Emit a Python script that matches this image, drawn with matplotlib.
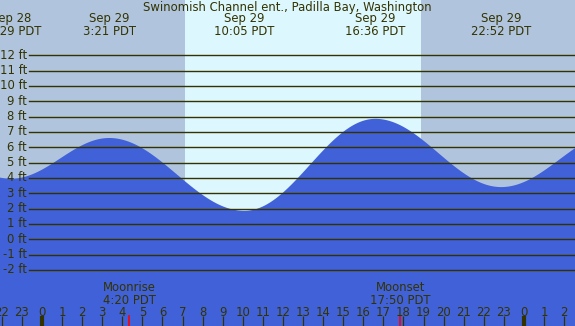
import numpy as np
import matplotlib
matplotlib.use("Agg")
import matplotlib.pyplot as plt
import matplotlib.transforms as mtransforms

# tide extremes, hours from Sep 29 00:00 PDT
ext_hours = [16.0 - 24, 22 + 29/60 - 24, 3 + 21/60, 10 + 5/60, 16 + 36/60, 22 + 52/60, 24 + 4 + 40/60]
ext_feet = [7.5, 3.95, 6.6, 1.85, 7.85, 3.4, 7.0]
ext_labels = ["Sep 28\n22:29 PDT", "Sep 29\n3:21 PDT", "Sep 29\n10:05 PDT",
              "Sep 29\n16:36 PDT", "Sep 29\n22:52 PDT"]
label_hours = ext_hours[1:6]

sunrise = 7 + 7/60
sunset = 18 + 52/60
moon_events = [("Moonrise\n4:20 PDT", 4 + 20/60), ("Moonset\n17:50 PDT", 17 + 50/60)]
feet_ticks = list(range(-2, 13))
hour_ticks = list(range(-2, 27))

title = "Swinomish Channel ent., Padilla Bay, Washington"

night_col = "#b0c4de"
day_col = "#ddf7ff"
water_col = "#4161d8"
ink = "#333300"
fs = 8.4

# cosine interpolation between the extremes
t = np.linspace(-2.2, 26.7, 1200)
h = np.zeros_like(t)
for i in range(len(ext_hours) - 1):
    t0, t1 = ext_hours[i], ext_hours[i + 1]
    m = (t >= t0) & (t <= t1)
    f = (t[m] - t0) / (t1 - t0)
    h[m] = ext_feet[i] + (ext_feet[i + 1] - ext_feet[i]) * (1 - np.cos(np.pi * f)) / 2

fig = plt.figure(figsize=(5.75, 3.26), dpi=100)
ax = fig.add_axes([0, 0, 1, 1])
ax.set_xlim(-2.09, 26.54)
ax.set_ylim(-5.66, 15.6)
ax.axis("off")
ax.add_patch(plt.Rectangle((0, 0), 1, 1, transform=ax.transAxes, color=night_col, zorder=0))
ax.axvspan(sunrise, sunset, color=day_col, zorder=1, lw=0)
ax.fill_between(t, -10, h, color=water_col, zorder=2, lw=0)

bt = mtransforms.blended_transform_factory(ax.transData, ax.transAxes)
xt = mtransforms.blended_transform_factory(ax.transAxes, ax.transData)

# horizontal foot lines
for ft in feet_ticks:
    ax.plot([29 / 575, 1], [ft, ft], color=ink, lw=1.0, transform=xt, zorder=3)
    ax.text(27 / 575, ft, "%d ft" % ft, transform=xt, ha="right", va="center",
            fontsize=fs, color=ink, zorder=4)

# title and extreme labels
ax.text(0.5, 1 - 7 / 326, title, transform=ax.transAxes, ha="center", va="center",
        fontsize=fs, color=ink, zorder=4)
for lab, hr in zip(ext_labels, label_hours):
    ax.text(hr, 1 - 25 / 326, lab, transform=bt, ha="center", va="center",
            fontsize=fs, color=ink, linespacing=1.0, zorder=4)

# moon labels
for lab, hr in moon_events:
    ax.text(hr, 1 - 294 / 326, lab, transform=bt, ha="center", va="center",
            fontsize=fs, color=ink, linespacing=1.0, zorder=4)
    ax.plot([hr, hr], [0, 10 / 326], color="red", lw=1.2, transform=bt, zorder=4)

# hour axis
for hr in hour_ticks:
    ax.text(hr, 1 - 312 / 326, str(hr % 24), transform=bt, ha="center", va="center",
            fontsize=fs, color=ink, zorder=4)
    lw = 3 if hr % 24 == 0 else 0.9
    ax.plot([hr, hr], [0, 10 / 326], color=ink, lw=lw, transform=bt, zorder=4,
            solid_capstyle="butt")

fig.savefig("out.png", dpi=100)
